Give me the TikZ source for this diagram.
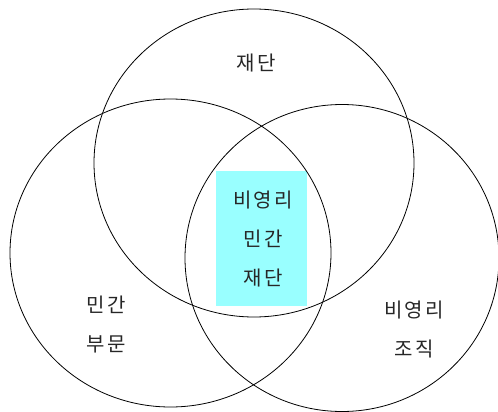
\documentclass[tikz,border=0pt]{standalone}
\usepackage{fontspec}
\newfontfamily\kr[LetterSpace=12]{Noto Sans CJK KR}
\definecolor{boxcyan}{HTML}{99FFFF}
\begin{document}
\begin{tikzpicture}[x=1pt,y=-1pt,
  ring/.style={draw=black,line width=0.8pt},
  lbl/.style={font=\kr\fontsize{20}{39}\selectfont,align=center,text=black!85}]
\useasboundingbox (0,0) rectangle (498,412);
\node[fill=boxcyan,minimum width=91pt,minimum height=135pt,inner sep=0pt] (core) at (261.5,238.5) {};
\draw[ring] (254,163) ellipse [x radius=160,y radius=154];
\draw[ring] (170.5,253) ellipse [x radius=160.5,y radius=154];
\draw[ring] (342,258) ellipse [x radius=157,y radius=153.5];
\node[lbl] (top) at (256,63) {재단};
\node[lbl] (mid) at (263,239) {비영리\\민간\\재단};
\node[lbl] (left) at (106,325) {민간\\부문};
\node[lbl] (right) at (414,330) {비영리\\조직};
\end{tikzpicture}
\end{document}
